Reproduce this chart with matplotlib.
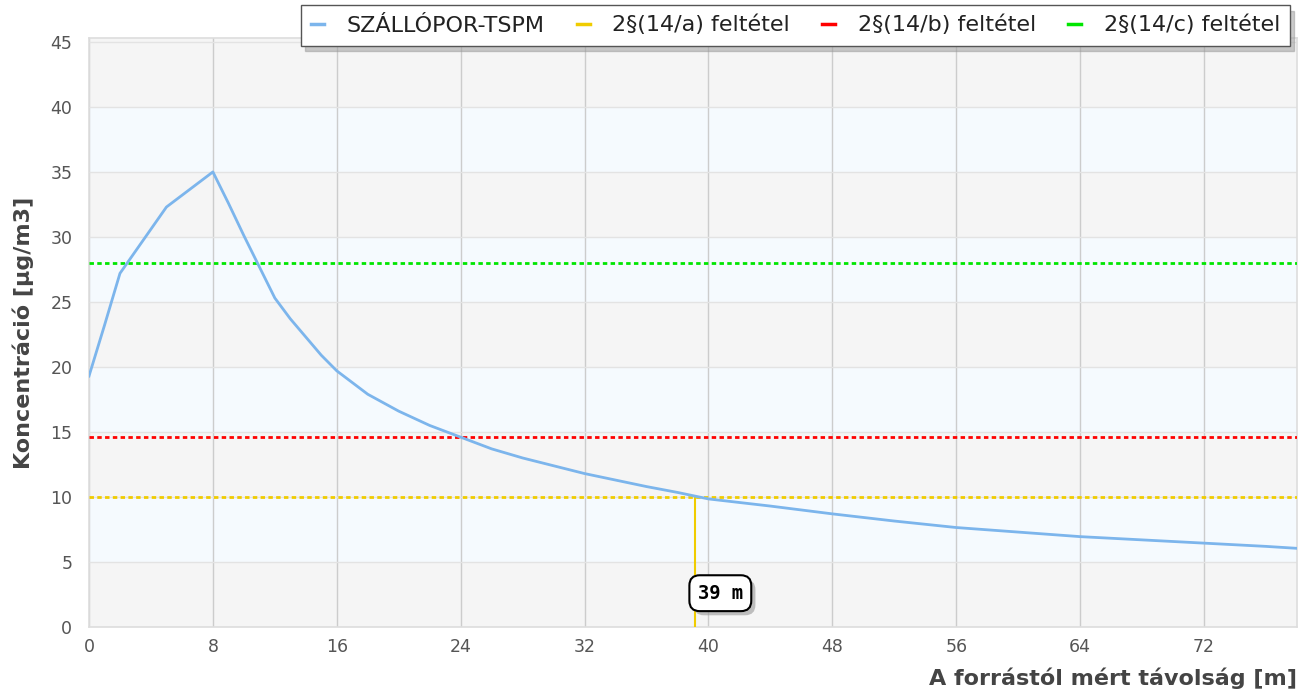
import matplotlib
matplotlib.use("Agg")
import matplotlib.pyplot as plt
from matplotlib.lines import Line2D
import matplotlib.patheffects as pe

# ---- data ----
distance_m = [0, 1, 2, 3, 4, 5, 6, 7, 8, 9, 10, 11, 12, 13, 14, 15, 16, 18, 20, 22, 24, 26, 28, 30,
              32, 34, 36, 38, 40, 44, 48, 52, 56, 60, 64, 68, 72, 76, 78]
tspm = [19.3, 23.2, 27.2, 28.9, 30.6, 32.3, 33.2, 34.1, 35.0, 32.6, 30.1, 27.7, 25.3, 23.7, 22.3, 20.9,
        19.7, 17.9, 16.6, 15.5, 14.6, 13.7, 13.0, 12.4, 11.8, 11.3, 10.8, 10.35, 9.85, 9.3, 8.7,
        8.15, 7.65, 7.3, 6.95, 6.7, 6.45, 6.2, 6.05]
limit_a = 10.0
limit_b = 14.6
limit_c = 28.0
cross_x = 39.15
cross_label = "39 m"
x_ticks = [0, 8, 16, 24, 32, 40, 48, 56, 64, 72]
y_ticks = [0, 5, 10, 15, 20, 25, 30, 35, 40, 45]
series_names = ["SZÁLLÓPOR-TSPM", "2§(14/a) feltétel", "2§(14/b) feltétel", "2§(14/c) feltétel"]

# ---- style ----
c_line = "#7cb5ec"
c_a = "#f0cc00"
c_b = "#ff0000"
c_c = "#00e600"

fig = plt.figure(figsize=(13.11, 6.93), dpi=100)
ax = fig.add_axes([89/1311, 1-627/693, (1297-89)/1311, (627-38)/693])
ax.set_xlim(0, 78)
ax.set_ylim(0, 45.3)
ax.set_facecolor("#f5f5f5")

# alternate bands
for lo in range(5, 45, 10):
    ax.axhspan(lo, lo + 5, color="#f5fafe", zorder=0, lw=0)

ax.set_xticks(x_ticks)
ax.set_yticks(y_ticks)
ax.grid(axis="x", color="#cccccc", lw=1, zorder=1)
ax.grid(axis="y", color="#e3e3e3", lw=1, zorder=1)
ax.tick_params(length=0, labelsize=12.5, labelcolor="#555555")
ax.tick_params(axis="y", pad=12)
ax.tick_params(axis="x", pad=8)
for s in ax.spines.values():
    s.set_color("#dddddd")
    s.set_linewidth(1.2)

dot = (0, (1.6, 1.2))
ax.axhline(limit_c, color=c_c, lw=2, ls=dot, zorder=3)
ax.axhline(limit_b, color=c_b, lw=2, ls=dot, zorder=3)
ax.axhline(limit_a, color=c_a, lw=2, ls=dot, zorder=3)
ax.plot(distance_m, tspm, color=c_line, lw=2, zorder=4)
ax.plot([cross_x, cross_x], [0, limit_a], color=c_a, lw=1.5, zorder=3)

# label with shadow
t = ax.annotate(cross_label, xy=(cross_x, 2.6), xytext=(18, 0), textcoords="offset points",
                ha="center", va="center", fontsize=13.5, family="DejaVu Sans Mono", weight="bold",
                color="black",
                bbox=dict(boxstyle="round,pad=0.45,rounding_size=0.55", fc="white", ec="black", lw=1.5),
                zorder=6)
t.get_bbox_patch().set_path_effects([
    pe.SimplePatchShadow(offset=(3, -3), shadow_rgbFace="#999999", alpha=0.6),
    pe.Normal()])

ax.set_ylabel("Koncentráció [µg/m3]", fontsize=16, weight="bold", color="#444444", labelpad=12)
ax.set_xlabel("A forrástól mért távolság [m]", fontsize=16, weight="bold", color="#444444",
              loc="right", labelpad=8)

handles = [Line2D([], [], color=c, lw=2.5) for c in (c_line, c_a, c_b, c_c)]
leg = fig.legend(handles, series_names, loc="upper right", bbox_to_anchor=(1290/1311, 1-5/693),
                 ncol=4, fontsize=16, handlelength=0.6, handletextpad=1.0, columnspacing=1.45,
                 frameon=True, fancybox=False,
                 shadow={"color": "#999999", "alpha": 0.5, "ox": 3, "oy": -4},
                 borderpad=0.45, borderaxespad=0)
leg.get_frame().set_edgecolor("#555555")
leg.get_frame().set_linewidth(1)
for tx in leg.get_texts():
    tx.set_color("#222222")
leg.set_zorder(10)

fig.savefig("out.png", dpi=100)
